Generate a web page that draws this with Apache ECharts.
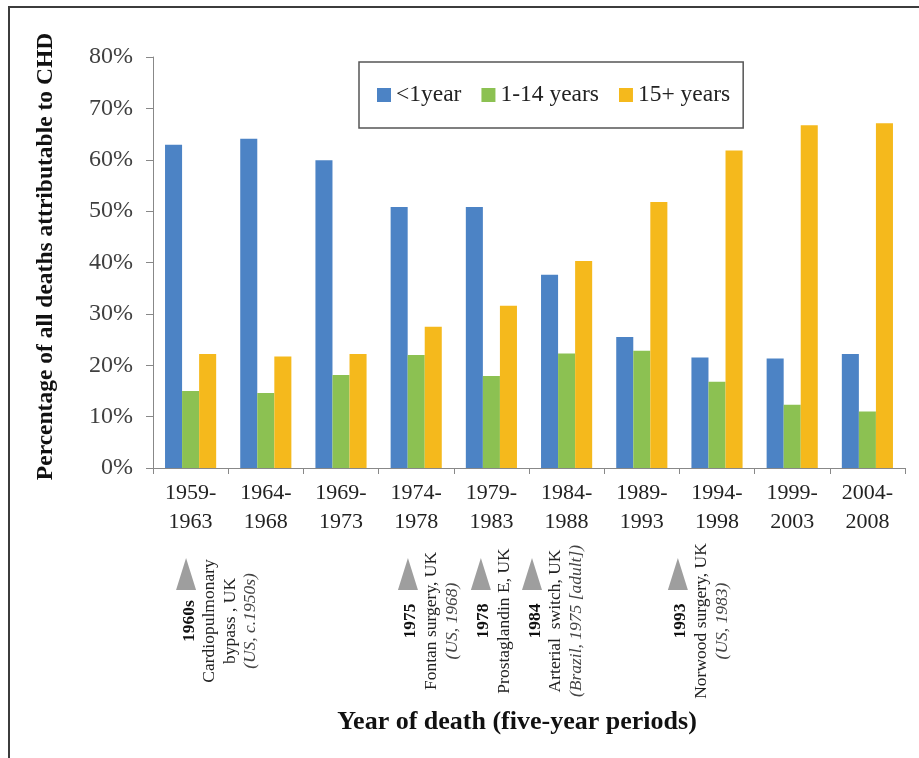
<!DOCTYPE html>
<html>
<head>
<meta charset="utf-8">
<script src="https://cdn.jsdelivr.net/npm/echarts/dist/echarts.min.js"></script>
<style>
  html, body { margin: 0; padding: 0; background: #ffffff; }
  #chart { width: 919px; height: 758px; }
</style>
</head>
<body>
<div id="chart"></div>
<script>
// Five-year periods of death
const periods = ['1959-\n1963', '1964-\n1968', '1969-\n1973', '1974-\n1978', '1979-\n1983',
                 '1984-\n1988', '1989-\n1993', '1994-\n1998', '1999-\n2003', '2004-\n2008'];

// Share of CHD deaths (%) by age at death
const under1 = [62.9, 64.1, 59.9, 50.8, 50.8, 37.6, 25.5, 21.5, 21.3, 22.2];
const age1to14 = [15.0, 14.6, 18.1, 22.0, 17.9, 22.3, 22.8, 16.8, 12.3, 11.0];
const age15plus = [22.2, 21.7, 22.2, 27.5, 31.6, 40.3, 51.8, 61.8, 66.7, 67.1];
const seriesNames = ['<1year', '1-14 years', '15+ years'];

// Surgical milestones shown under the axis
const milestoneYears = ['1960s', '1975', '1978', '1984', '1993'];
const milestoneEvents = [['Cardiopulmonary', 'bypass , UK'], ['Fontan surgery, UK'], ['Prostaglandin E, UK'],
                         ['Arterial  switch, UK'], ['Norwood surgery, UK']];
const milestoneOrigins = ['(US, c.1950s)', '(US, 1968)', '', '(Brazil, 1975 [adult])', '(US, 1983)'];
// marker position along the axis, in period widths from its left end
const milestonePositions = [0.44, 3.39, 4.36, 5.04, 6.98];

const colors = ['#4c83c5', '#8cc152', '#f5b91c'];
const serif = '"Liberation Serif", "Times New Roman", serif';

const chart = echarts.init(document.getElementById('chart'), null, { renderer: 'canvas' });

const makeBar = (name, data, i) => ({
  name: name,
  type: 'bar',
  data: data,
  barGap: '0%',
  barCategoryGap: '32%',
  itemStyle: { color: colors[i] }
});

chart.setOption({
  animation: false,
  backgroundColor: '#ffffff',
  color: colors,
  textStyle: { fontFamily: serif },
  grid: { left: 153, right: 14, top: 57, bottom: 290, containLabel: false },
  legend: {
    left: 359, top: 62,
    orient: 'horizontal',
    icon: 'rect',
    itemWidth: 14, itemHeight: 14, itemGap: 20,
    padding: [21, 13, 21, 18],
    borderColor: '#555555', borderWidth: 1.5,
    textStyle: { fontFamily: serif, fontSize: 23.5, color: '#222222' },
    data: seriesNames
  },
  xAxis: {
    type: 'category',
    data: periods,
    boundaryGap: true,
    axisLine: { lineStyle: { color: '#888888', width: 1 } },
    axisTick: { show: true, inside: false, length: 6, lineStyle: { color: '#888888' } },
    axisLabel: { fontFamily: serif, fontSize: 22, color: '#222222', lineHeight: 29, margin: 11, interval: 0 }
  },
  yAxis: {
    type: 'value',
    min: 0, max: 80, interval: 10,
    axisLine: { show: true, lineStyle: { color: '#888888', width: 1 } },
    axisTick: { show: true, inside: false, length: 7, lineStyle: { color: '#888888' } },
    splitLine: { show: false },
    axisLabel: { formatter: '{value}%', fontFamily: serif, fontSize: 24, color: '#404040', margin: 20 }
  },
  series: [makeBar(seriesNames[0], under1, 0), makeBar(seriesNames[1], age1to14, 1), makeBar(seriesNames[2], age15plus, 2)]
});

// Axis titles, outer frame and the milestone markers
const c0 = chart.convertToPixel({ xAxisIndex: 0 }, 0);
const c1 = chart.convertToPixel({ xAxisIndex: 0 }, 1);
const band = c1 - c0;
const axisStart = c0 - band / 2;
const yTop = chart.convertToPixel({ yAxisIndex: 0 }, 80);
const yBottom = chart.convertToPixel({ yAxisIndex: 0 }, 0);

const lineStep = 20.6;
const markerTop = 558, markerBase = 590, labelCenterY = 621;

const graphics = [
  {
    type: 'polyline', silent: true,
    shape: { points: [[9, 758], [9, 7], [919, 7]] },
    style: { stroke: '#3c3c3c', lineWidth: 2, fill: null }
  },
  {
    type: 'text', silent: true,
    x: 46, y: (yTop + yBottom) / 2 - 6, rotation: Math.PI / 2,
    style: {
      text: 'Percentage of all deaths attributable to CHD',
      fontFamily: serif, fontSize: 23.5, fontWeight: 'bold', fill: '#111111',
      align: 'center', verticalAlign: 'middle'
    }
  },
  {
    type: 'text', silent: true,
    x: 517, y: 722,
    style: {
      text: 'Year of death (five-year periods)',
      fontFamily: serif, fontSize: 26, fontWeight: 'bold', fill: '#111111',
      align: 'center', verticalAlign: 'middle'
    }
  }
];

milestoneYears.forEach((yr, i) => {
  const mx = axisStart + milestonePositions[i] * band;
  graphics.push({
    type: 'polygon', silent: true,
    shape: { points: [[mx - 10, markerBase], [mx + 10, markerBase], [mx, markerTop]] },
    style: { fill: '#9e9e9e' }
  });
  const lines = ['{y|' + yr + '}'];
  milestoneEvents[i].forEach(t => lines.push('{e|' + t + '}'));
  if (milestoneOrigins[i]) lines.push('{o|' + milestoneOrigins[i] + '}');
  const firstX = mx + 3;
  graphics.push({
    type: 'text', silent: true,
    x: firstX + (lines.length - 1) * lineStep / 2,
    y: labelCenterY,
    rotation: Math.PI / 2,
    style: {
      text: lines.join('\n'),
      align: 'center', verticalAlign: 'middle',
      fontFamily: serif, fontSize: 17.5, fill: '#222222',
      rich: {
        y: { fontFamily: serif, fontSize: 17.5, fontWeight: 'bold', fill: '#111111', lineHeight: lineStep, align: 'center' },
        e: { fontFamily: serif, fontSize: 17.5, fill: '#222222', lineHeight: lineStep, align: 'center' },
        o: { fontFamily: serif, fontSize: 17.5, fontStyle: 'italic', fill: '#444444', lineHeight: lineStep, align: 'center' }
      }
    }
  });
});

chart.setOption({ graphic: graphics });
</script>
</body>
</html>
